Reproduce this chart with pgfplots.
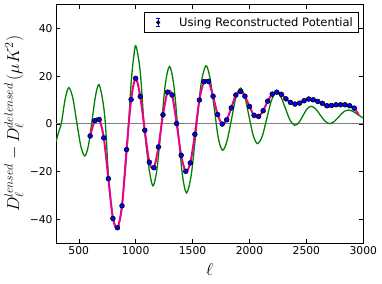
\documentclass[border=0pt]{standalone}
\usepackage{pgfplots}
\pgfplotsset{compat=1.18}
\usepackage{pgfplotstable}
\usepackage{fontspec}
\setmainfont{DejaVu Sans}

\pgfplotstableread{
l v
600 -5.1
640 1.3
680 1.8
720 -5.9
760 -23.0
800 -39.7
840 -43.6
880 -34.4
920 -10.8
960 10.2
1000 19.1
1040 11.5
1080 -2.7
1120 -16.1
1160 -18.4
1200 -9.7
1240 3.8
1280 13.3
1320 12.1
1360 0.1
1400 -13.2
1440 -19.9
1480 -16.4
1520 -4.4
1560 10.0
1600 17.7
1640 17.8
1680 11.6
1720 3.9
1760 -0.1
1800 1.7
1840 6.7
1880 12.1
1920 13.6
1960 11.6
2000 7.3
2040 3.6
2080 3.1
2120 5.5
2160 9.5
2200 12.5
2240 13.3
2280 12.4
2320 10.5
2360 9.0
2400 8.3
2440 8.7
2480 9.7
2520 10.4
2560 10.1
2600 9.4
2640 8.6
2680 7.6
2720 7.7
2760 8.0
2800 8.0
2840 8.0
2880 7.6
2920 6.6
}\recdata

\pgfplotstableread{
l v
600 -5.1
640 1.3
680 1.8
720 -5.9
760 -23.0
800 -39.7
840 -43.6
880 -34.4
920 -10.8
960 10.2
1000 19.1
1040 11.5
1080 -2.7
1120 -16.1
1160 -18.4
1200 -9.7
1240 3.8
1280 13.3
1320 12.1
1360 0.1
1400 -13.2
1440 -19.9
1480 -16.4
1520 -4.4
1560 10.0
1600 17.7
1640 17.8
1680 11.6
1720 3.9
1760 -0.1
1800 1.7
1840 6.7
1880 12.1
1920 13.6
1960 11.6
2000 7.3
2040 3.6
2080 3.1
2120 5.5
2160 9.5
2200 12.5
2240 13.3
2280 12.4
2320 10.5
2360 9.0
2400 8.3
2440 8.7
2480 9.7
2520 10.4
2560 10.1
2600 9.4
2640 8.6
2680 7.6
2720 7.7
2760 8.0
2800 8.0
2840 8.0
2880 7.6
2920 6.6
2960 3.8
}\magdata

\pgfplotstableread{
l v
300 -7.4
320 -4.0
348 0.5
380 10.3
412 15.2
447 11.0
482 0.85
518 -9.3
553 -13.5
585 -9.1
617 1.55
649 12.2
678 16.5
710 10.0
734 0
763 -22.9
800 -39
840 -44
880 -34
924 -10.3
960 17
985 29
1003 32.6
1040 22
1075 -1
1115 -18
1152 -26
1188 -18.7
1225 -0.95
1261 16.8
1298 24.1
1335 16.3
1372 -2.45
1410 -21.2
1447 -29
1489 -21.2
1532 -2.3
1574 16.6
1617 24.4
1653 19.2
1690 6.65
1726 -5.9
1763 -11.1
1802 -7.3
1842 1.95
1881 11.2
1921 15.0
1958 11.6
1995 3.35
2033 -4.9
2070 -8.3
2112 -5.2
2153 2.45
2195 10.1
2237 13.2
2277 11.2
2317 6.3
2358 1.4
2398 -0.6
2434 0.57
2469 3.4
2505 6.2
2541 7.4
2581 6.3
2621 3.75
2662 1.2
2702 0.1
2743 0.93
2785 2.95
2826 5.0
2868 5.8
2910 5.2
2955 3.8
3000 2.4
}\greendata

\definecolor{mplgreen}{rgb}{0,0.5,0}

\begin{document}
\begin{tikzpicture}
\useasboundingbox (-56bp,-41bp) rectangle (326bp,243bp);
\begin{axis}[
  at={(0,0)}, anchor=south west, scale only axis,
  width=307.3bp, height=238.3bp,
  xmin=300, xmax=3000, ymin=-50, ymax=50,
  xtick={500,1000,1500,2000,2500,3000},
  xticklabels={500,1000,1500,2000,2500,3000},
  ytick={-40,-20,0,20,40},
  yticklabels={−40,−20,0,20,40},
  tick label style={font=\fontsize{10.8}{12}\selectfont},
  tick style={black, line width=0.5pt},
  major tick length=4bp,
  axis line style={line width=0.7pt},
  xlabel={$\ell$},
  ylabel={$D_\ell^{lensed} - D_\ell^{delensed}\,(\mu K^2)$},
  xlabel style={at={(axis description cs:0.5,-0.113)}, anchor=center, font=\fontsize{18}{20}\selectfont},
  ylabel style={at={(axis description cs:-0.1367,0.5)}, anchor=center, font=\fontsize{18.5}{22}\selectfont},
  legend style={at={(axis description cs:0.983,0.969)}, anchor=north east,
    draw=black, line width=0.5pt, inner xsep=3pt, inner ysep=3pt,
    font=\fontsize{11.6}{13}\selectfont},
  legend cell align=left,
]
\addplot[gray, line width=1.2pt, forget plot] coordinates {(300,0) (3000,0)};
\addplot[mplgreen, line width=1.3pt, smooth, forget plot] table[x=l,y=v] {\greendata};
\addplot[magenta, line width=2pt, smooth, forget plot] table[x=l,y=v] {\magdata};
\addplot[only marks, mark=*, mark size=2.4pt, mark options={fill=blue, draw=black, line width=0.6pt},
  legend image code/.code={
    \path[draw=none, fill=none] (0bp,0bp) rectangle (30bp,0.1bp);
    \draw[blue, line width=1pt] (11bp,-4bp) -- (11bp,4bp);
    \draw[blue, line width=1pt] (9bp,4bp) -- (13bp,4bp);
    \draw[blue, line width=1pt] (9bp,-4bp) -- (13bp,-4bp);
    \fill[black] (11bp,0bp) circle (1.8bp);
  }] table[x=l,y=v] {\recdata};
\addlegendentry{Using Reconstructed Potential}
\end{axis}
\end{tikzpicture}
\end{document}
